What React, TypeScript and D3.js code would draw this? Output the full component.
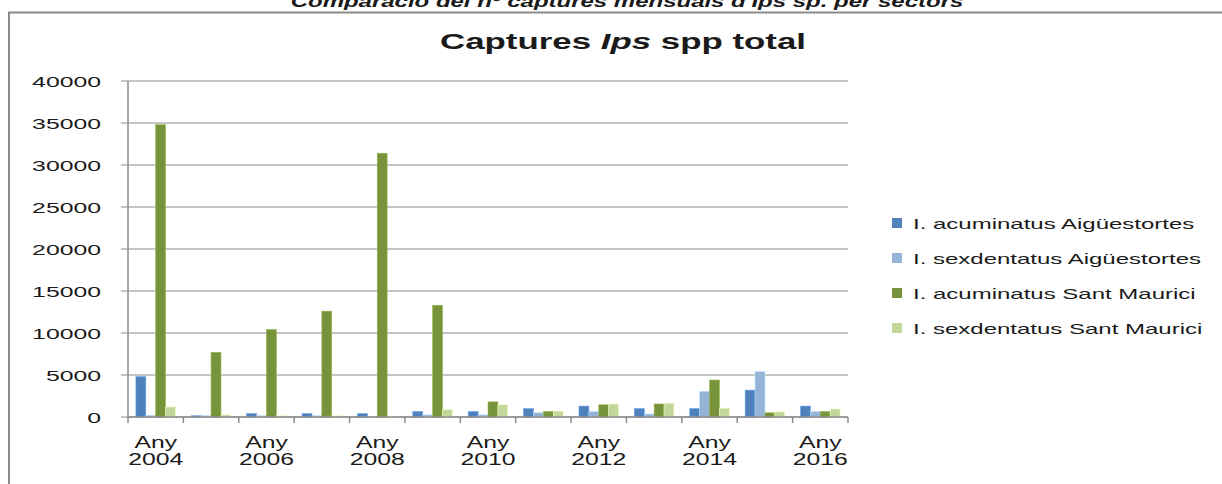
import React, { useMemo } from "react";
import * as d3 from "d3";

const W = 1222;
const H = 484;

const years = ["2004", "2005", "2006", "2007", "2008", "2009", "2010", "2011", "2012", "2013", "2014", "2015", "2016"];
const acumAig = [4800, 150, 400, 400, 400, 650, 650, 1000, 1300, 1000, 1000, 3200, 1300];
const sexAig = [200, 150, 150, 150, 50, 250, 250, 500, 650, 350, 3050, 5400, 650];
const acumSM = [34800, 7700, 10400, 12600, 31400, 13300, 1800, 650, 1450, 1550, 4400, 500, 650];
const sexSM = [1200, 250, 150, 150, 100, 900, 1450, 700, 1550, 1650, 1050, 600, 950];
const seriesNames = [
  "I. acuminatus Aigüestortes",
  "I. sexdentatus Aigüestortes",
  "I. acuminatus Sant Maurici",
  "I. sexdentatus Sant Maurici",
];
const colors = ["#4f81bd", "#95b3d7", "#77933c", "#c3d69b"];
const yTicks = [0, 5000, 10000, 15000, 20000, 25000, 30000, 35000, 40000];

const FONT = "'Liberation Sans', Arial, sans-serif";
const SX = 1.55; // the original picture is stretched sideways

const Txt = ({ x, y, anchor = "start", size = 15, weight = "normal", children, sx = SX, color = "#1a1a1a", style = "normal" }: any) => (
  <text
    transform={`translate(${x},${y}) scale(${sx},1)`}
    textAnchor={anchor}
    fontFamily={FONT}
    fontSize={size}
    fontWeight={weight}
    fontStyle={style}
    fill={color}
  >
    {children}
  </text>
);

const App = () => {
  const left = 128;
  const right = 848;
  const top = 81;
  const bottom = 417;

  const data = useMemo(
    () => years.map((y, i) => ({ year: y, values: [acumAig[i], sexAig[i], acumSM[i], sexSM[i]] })),
    []
  );

  const x = d3.scaleBand().domain(years).range([left, right]).padding(0);
  const bw = x.bandwidth();
  const x1 = d3.scaleBand().domain(d3.range(4).map(String)).range([bw * 0.143, bw * 0.857]).padding(0);
  const y = d3.scaleLinear().domain([0, 40000]).range([bottom, top]);

  const gridColor = "#8c8c8c";

  return (
    <svg width={W} height={H} style={{ position: "absolute", left: 0, top: 0, background: "#fff" }}>
      <Txt x={627} y={7} anchor="middle" size={16} weight="bold" style="italic" sx={1.5}>
        Comparació del nº captures mensuals d'Ips sp. per sectors
      </Txt>
      <path d={`M9,${H + 5}V12.5H${W + 5}`} fill="none" stroke="#8a8a8a" strokeWidth={2} />

      <Txt x={623} y={49} anchor="middle" size={22.5} weight="bold">
        Captures <tspan fontStyle="italic">Ips</tspan> spp total
      </Txt>

      {yTicks.map((t) => (
        <g key={t}>
          <line x1={left - 7} x2={right} y1={y(t)} y2={y(t)} stroke={gridColor} strokeWidth={1} />
          <Txt x={101} y={y(t) + 6} anchor="end" size={15.5} sx={1.6}>
            {t}
          </Txt>
        </g>
      ))}

      {data.map((d) => (
        <g key={d.year} transform={`translate(${x(d.year)},0)`}>
          {d.values.map((v, j) => (
            <rect
              key={j}
              x={x1(String(j))}
              y={y(v)}
              width={x1.bandwidth()}
              height={bottom - y(v)}
              fill={colors[j]}
              stroke={d3.color(colors[j])!.brighter(0.6).toString()}
              strokeWidth={0.6}
            />
          ))}
        </g>
      ))}

      <line x1={left} x2={left} y1={top} y2={bottom} stroke={gridColor} strokeWidth={1.5} />
      <line x1={left} x2={right} y1={bottom} y2={bottom} stroke={gridColor} strokeWidth={1.5} />
      {years.concat(["end"]).map((yr, i) => {
        const tx = left + i * bw;
        return <line key={yr} x1={tx} x2={tx} y1={bottom} y2={bottom + 6} stroke={gridColor} strokeWidth={1.5} />;
      })}
      {years.map((yr, i) =>
        i % 2 === 0 ? (
          <g key={yr}>
            <Txt x={x(yr)! + bw / 2} y={448} anchor="middle" size={16.5} sx={1.5}>
              Any
            </Txt>
            <Txt x={x(yr)! + bw / 2} y={465} anchor="middle" size={16.5} sx={1.5}>
              {yr}
            </Txt>
          </g>
        ) : null
      )}

      {seriesNames.map((name, i) => (
        <g key={name} transform={`translate(892,${223 + i * 35})`}>
          <rect x={0} y={-5} width={10} height={10} fill={colors[i]} />
          <Txt x={21} y={5.5} size={15} sx={1.6}>
            {name}
          </Txt>
        </g>
      ))}
    </svg>
  );
};

export default App;
